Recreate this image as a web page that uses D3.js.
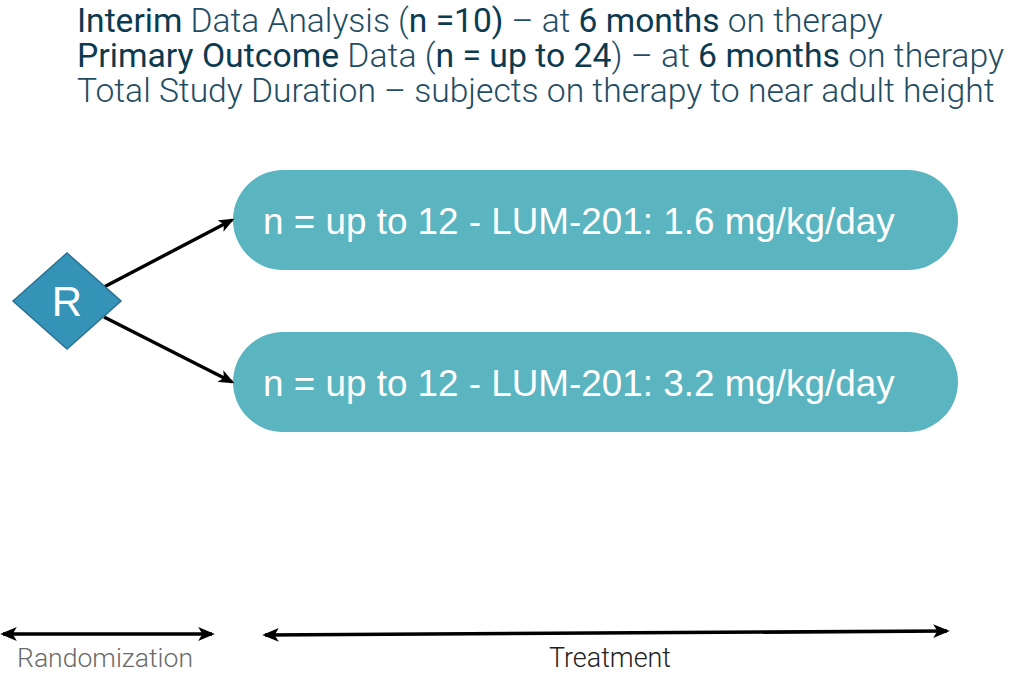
<!DOCTYPE html>
<html>
<head>
<meta charset="utf-8">
<script src="https://cdn.jsdelivr.net/npm/d3@7"></script>
<style>
  html, body { margin: 0; padding: 0; background: #fff; }
  svg { display: block; }
</style>
</head>
<body>
<div id="chart"></div>
<script>
// header lines: each is a list of [text, emphasised]
const headerLine1 = [["Interim", true], [" Data Analysis (", false], ["n =10)", true], [" \u2013 at ", false], ["6 months", true], [" on therapy", false]];
const headerLine2 = [["Primary Outcome", true], [" Data (", false], ["n = up to 24", true], [") \u2013 at ", false], ["6 months", true], [" on therapy", false]];
const headerLine3 = [["Total Study Duration \u2013 subjects on therapy to near adult height", false]];
const headerLines = [headerLine1, headerLine2, headerLine3];
const headerWidths = [806, 927, 918];

const arms = ["arm1", "arm2"];
const armLabels = ["n = up to 12 - LUM-201: 1.6 mg/kg/day", "n = up to 12 - LUM-201: 3.2 mg/kg/day"];

const phases = ["Randomization", "Treatment"];
const phaseStart = [3, 265];
const phaseEnd = [212, 947];
const phaseColors = ["#6b6b6b", "#222"];

const width = 1010, height = 673;

const svg = d3.select("#chart").append("svg")
  .attr("width", width)
  .attr("height", height);

const defs = svg.append("defs");
function addMarker(id, orient) {
  defs.append("marker")
    .attr("id", id)
    .attr("viewBox", "0 0 12 10")
    .attr("markerWidth", 4.6)
    .attr("markerHeight", 3.9)
    .attr("refX", 10)
    .attr("refY", 5)
    .attr("markerUnits", "strokeWidth")
    .attr("orient", orient)
    .append("path")
    .attr("d", "M0,0 L12,5 L0,10 L3,5 Z")
    .attr("fill", "#000");
}
addMarker("head", "auto");
addMarker("head2", "auto-start-reverse");

// fit a text element to a target width by scaling its font size
function fitWidth(sel, target) {
  const fs = parseFloat(sel.attr("font-size"));
  const w = sel.node().getComputedTextLength();
  sel.attr("font-size", (fs * target / w).toFixed(2));
}

// header
headerLines.forEach((segs, i) => {
  const t = svg.append("text")
    .attr("x", 77)
    .attr("y", 32 + i * 35)
    .attr("font-family", "Roboto, 'Liberation Sans', sans-serif")
    .attr("font-size", 28);
  t.selectAll("tspan").data(segs).join("tspan")
    .attr("font-weight", d => d[1] ? 400 : 300)
    .attr("fill", d => d[1] ? "#0c3a4f" : "#1f4d63")
    .text(d => d[0]);
  fitWidth(t, headerWidths[i]);
});

// arms
const y = d3.scaleBand().domain(arms).range([170, 432]).paddingInner(0.383).paddingOuter(0);
const pillX0 = 233, pillX1 = 958;

const arm = svg.selectAll("g.arm").data(arms).join("g").attr("class", "arm");
arm.append("rect")
  .attr("x", pillX0)
  .attr("y", d => y(d))
  .attr("width", pillX1 - pillX0)
  .attr("height", y.bandwidth())
  .attr("rx", y.bandwidth() / 2)
  .attr("fill", "#5ab5c0");
arm.append("text")
  .attr("x", 263)
  .attr("y", d => y(d) + y.bandwidth() / 2 + 14)
  .attr("font-family", "'Liberation Sans', Arial, sans-serif")
  .attr("font-size", 34)
  .attr("fill", "#fff")
  .text((d, i) => armLabels[i])
  .each(function () { fitWidth(d3.select(this), 632); });

// randomisation diamond
const cx = 67, cy = 301, hw = 54, hh = 48;
// arrows to arms
svg.selectAll("line.branch").data(arms).join("line")
  .attr("class", "branch")
  .attr("x1", 104)
  .attr("y1", (d, i) => cy + (i === 0 ? -14 : 16))
  .attr("x2", pillX0 - 1)
  .attr("y2", d => y(d) + y.bandwidth() / 2)
  .attr("stroke", "#000")
  .attr("stroke-width", 3.4)
  .attr("marker-end", "url(#head)");

svg.append("path")
  .attr("d", `M${cx - hw},${cy} L${cx},${cy - hh} L${cx + hw},${cy} L${cx},${cy + hh} Z`)
  .attr("fill", "#3593b8")
  .attr("stroke", "#2a7191")
  .attr("stroke-width", 1.5);
svg.append("text")
  .attr("x", cx)
  .attr("y", cy + 15)
  .attr("text-anchor", "middle")
  .attr("font-family", "'Liberation Sans', Arial, sans-serif")
  .attr("font-size", 42)
  .attr("fill", "#fff")
  .text("R");

// phase arrows
const phase = svg.selectAll("g.phase").data(phases).join("g").attr("class", "phase");
phase.append("line")
  .attr("x1", (d, i) => phaseStart[i])
  .attr("x2", (d, i) => phaseEnd[i])
  .attr("y1", (d, i) => i === 0 ? 634 : 635)
  .attr("y2", (d, i) => i === 0 ? 634 : 631)
  .attr("stroke", "#000")
  .attr("stroke-width", 3.6)
  .attr("marker-start", "url(#head2)")
  .attr("marker-end", "url(#head)");
phase.append("text")
  .attr("x", (d, i) => i === 0 ? 105 : 610)
  .attr("y", 667)
  .attr("text-anchor", "middle")
  .attr("font-family", "Roboto, 'Liberation Sans', sans-serif")
  .attr("font-weight", 300)
  .attr("font-size", 24)
  .attr("fill", (d, i) => phaseColors[i])
  .text(d => d)
  .each(function (d, i) { fitWidth(d3.select(this), i === 0 ? 176 : 122); });
</script>
</body>
</html>
